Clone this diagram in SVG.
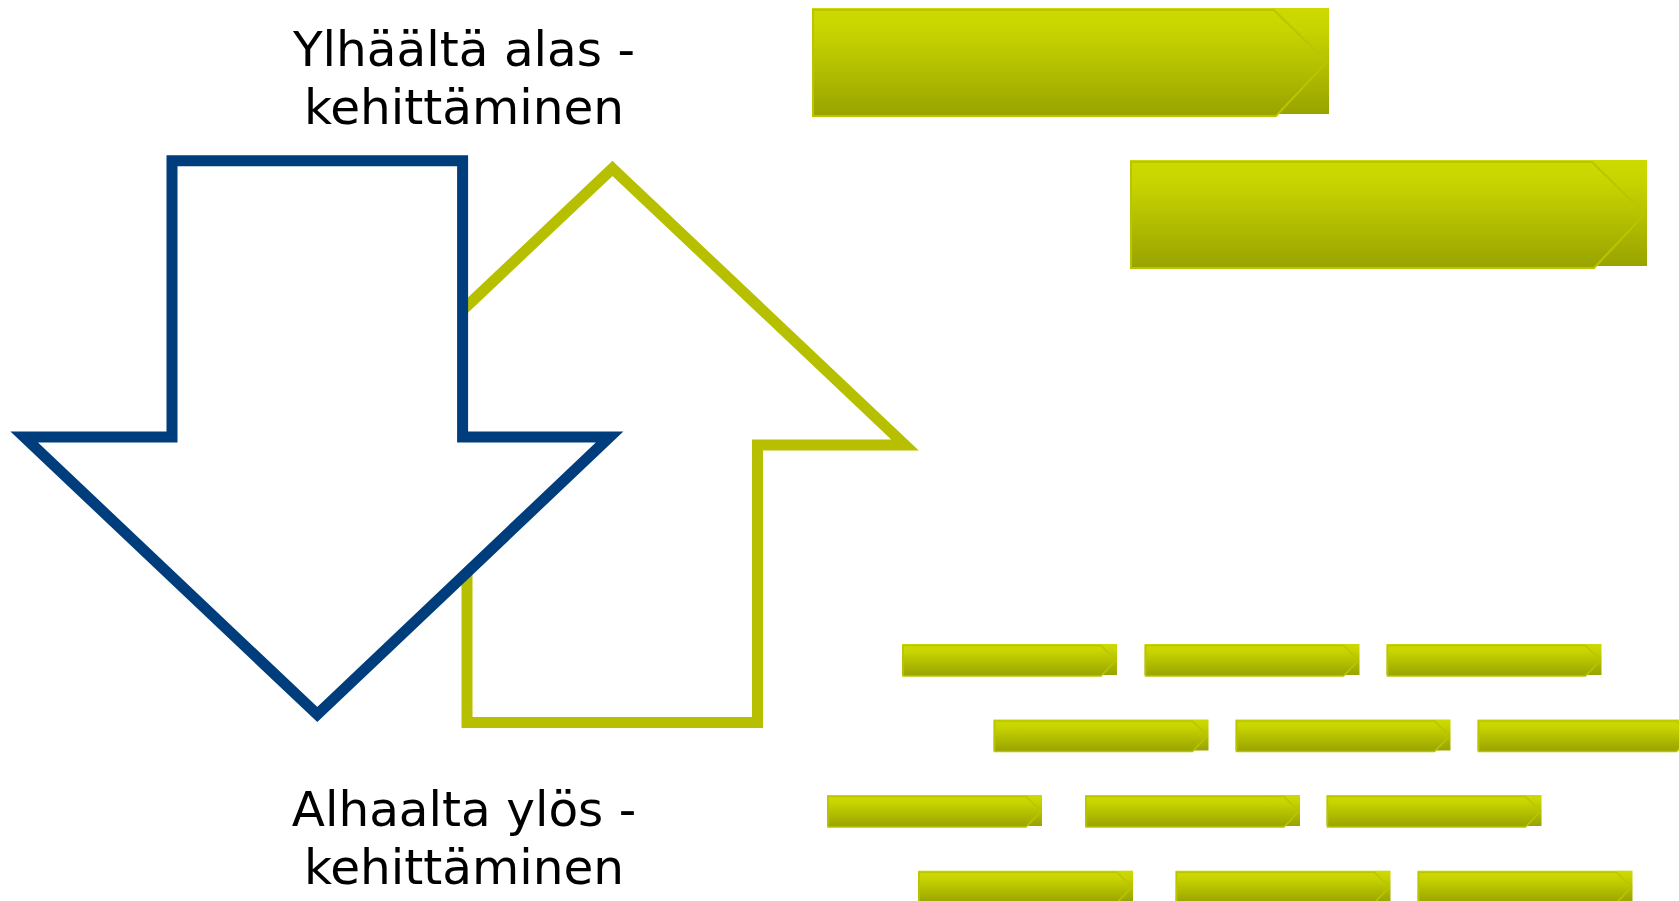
<svg xmlns="http://www.w3.org/2000/svg" width="1679" height="901" viewBox="0 0 1679 901">
<style>
.lbl{font-family:"DejaVu Sans","Verdana","Liberation Sans",sans-serif;font-size:48.5px;fill:#000;text-anchor:middle}
.blue{fill:#fff;stroke:#003D7C;stroke-width:11;stroke-linejoin:miter;stroke-miterlimit:10}
.green{fill:#fff;stroke:#B7C000;stroke-width:11;stroke-linejoin:miter;stroke-miterlimit:10}
.bar{fill:url(#g)}
.edge{fill:url(#g);stroke:#BAC500;stroke-width:2}
.edge-s{fill:url(#g);stroke:#BAC500;stroke-width:1.6}
</style>
<defs>
<linearGradient id="g" x1="0" y1="0" x2="0" y2="1">
<stop offset="0" stop-color="#CDDA00"/>
<stop offset="0.2" stop-color="#C8D400"/>
<stop offset="1" stop-color="#98A300"/>
</linearGradient>
</defs>
<rect width="1679" height="901" fill="#fff"/>
<g id="up-arrow"><path class="green" d="M612.5,168.4 L905,445 H757.5 V722.5 H467 V445 H320 Z"/></g>
<g id="down-arrow"><path class="blue" d="M172,160.8 H462.6 V437 H609.6 L317.3,714.5 L24.2,437 H172 Z"/></g>
<g id="label-top"><text class="lbl" x="464" y="66">Ylhäältä alas -</text><text class="lbl" x="464" y="123.5">kehittäminen</text></g>
<g id="label-bottom"><text class="lbl" x="464" y="826">Alhaalta ylös -</text><text class="lbl" x="464" y="884">kehittäminen</text></g>
<g id="big-bar-1"><rect class="bar" x="812" y="8" width="517" height="106"/><path class="edge" d="M813,10 H1274 L1327,62 L1276,116 H813 Z"/></g>
<g id="big-bar-2"><rect class="bar" x="1130" y="160" width="517" height="106"/><path class="edge" d="M1131,162 H1592 L1645,214 L1594,268 H1131 Z"/></g>
<g id="bar-r1-1"><rect class="bar" x="902" y="644" width="215" height="31"/><path class="edge-s" d="M903,645.5 H1101 L1116,660.5 L1101,676 H903 Z"/></g>
<g id="bar-r1-2"><rect class="bar" x="1144.5" y="644" width="215" height="31"/><path class="edge-s" d="M1145.5,645.5 H1343.5 L1358.5,660.5 L1343.5,676 H1145.5 Z"/></g>
<g id="bar-r1-3"><rect class="bar" x="1386.5" y="644" width="215" height="31"/><path class="edge-s" d="M1387.5,645.5 H1585.5 L1600.5,660.5 L1585.5,676 H1387.5 Z"/></g>
<g id="bar-r2-1"><rect class="bar" x="993.5" y="719.5" width="215" height="31"/><path class="edge-s" d="M994.5,721 H1192.5 L1207.5,736 L1192.5,751.5 H994.5 Z"/></g>
<g id="bar-r2-2"><rect class="bar" x="1235.5" y="719.5" width="215" height="31"/><path class="edge-s" d="M1236.5,721 H1434.5 L1449.5,736 L1434.5,751.5 H1236.5 Z"/></g>
<g id="bar-r2-3"><rect class="bar" x="1477.5" y="719.5" width="215" height="31"/><path class="edge-s" d="M1478.5,721 H1676.5 L1691.5,736 L1676.5,751.5 H1478.5 Z"/></g>
<g id="bar-r3-1"><rect class="bar" x="827" y="795" width="215" height="31"/><path class="edge-s" d="M828,796.5 H1026 L1041,811.5 L1026,827 H828 Z"/></g>
<g id="bar-r3-2"><rect class="bar" x="1085" y="795" width="215" height="31"/><path class="edge-s" d="M1086,796.5 H1284 L1299,811.5 L1284,827 H1086 Z"/></g>
<g id="bar-r3-3"><rect class="bar" x="1326.5" y="795" width="215" height="31"/><path class="edge-s" d="M1327.5,796.5 H1525.5 L1540.5,811.5 L1525.5,827 H1327.5 Z"/></g>
<g id="bar-r4-1"><rect class="bar" x="918" y="870.7" width="215" height="31"/><path class="edge-s" d="M919,872.2 H1117 L1132,887.2 L1117,902.7 H919 Z"/></g>
<g id="bar-r4-2"><rect class="bar" x="1175.5" y="870.7" width="215" height="31"/><path class="edge-s" d="M1176.5,872.2 H1374.5 L1389.5,887.2 L1374.5,902.7 H1176.5 Z"/></g>
<g id="bar-r4-3"><rect class="bar" x="1417.5" y="870.7" width="215" height="31"/><path class="edge-s" d="M1418.5,872.2 H1616.5 L1631.5,887.2 L1616.5,902.7 H1418.5 Z"/></g>
<g id="connectors"></g>
</svg>
